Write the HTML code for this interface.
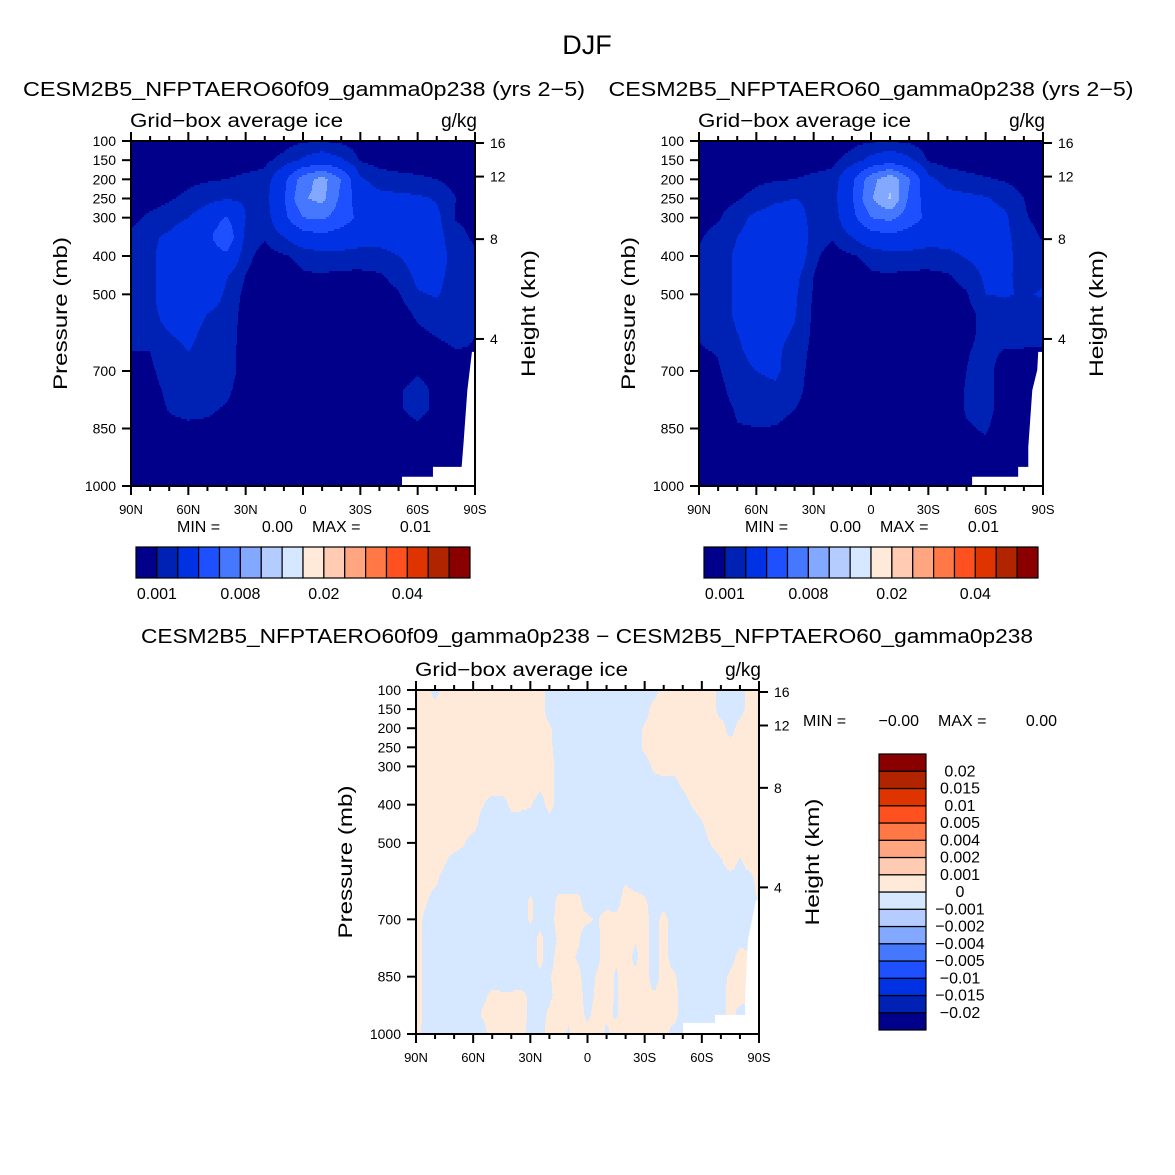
<!DOCTYPE html>
<html><head><meta charset="utf-8">
<style>
html,body{margin:0;padding:0;background:#fff;}
svg{display:block;font-family:"Liberation Sans",sans-serif;}
</style></head>
<body>
<svg id="fig" width="1175" height="1175" viewBox="0 0 1175 1175" xmlns="http://www.w3.org/2000/svg">
<rect x="0" y="0" width="1175" height="1175" fill="#fff"/>
<text x="587" y="54" font-size="27" text-anchor="middle">DJF</text>
<text x="304" y="96" font-size="20" text-anchor="middle" textLength="562" lengthAdjust="spacingAndGlyphs">CESM2B5_NFPTAERO60f09_gamma0p238 (yrs 2−5)</text>
<text x="871" y="96" font-size="20" text-anchor="middle" textLength="525" lengthAdjust="spacingAndGlyphs">CESM2B5_NFPTAERO60_gamma0p238 (yrs 2−5)</text>
<text x="587" y="643" font-size="20" text-anchor="middle" textLength="892" lengthAdjust="spacingAndGlyphs">CESM2B5_NFPTAERO60f09_gamma0p238 − CESM2B5_NFPTAERO60_gamma0p238</text>
<g id="layer"></g>
</svg>
<script>
// ---------- data ----------
const lats10 = [90,80,70,60,50,40,30,20,10,0,-10,-20,-30,-40,-50,-60,-70,-80,-90];
const lats5 = [90,85,80,75,70,65,60,55,50,45,40,35,30,25,20,15,10,5,0,-5,-10,-15,-20,-25,-30,-35,-40,-45,-50,-55,-60,-65,-70,-75,-80,-85,-90];
const plevs = [100,150,200,250,300,350,400,450,500,550,600,650,700,750,800,850,900,950,1000];
const iceUnit = 0.001; // grid values are in 1e-3 g/kg
const iceLeft = [
[0.2,0.2,0.2,0.2,0.2,0.2,0.3,0.4,0.6,0.9,1.0,0.8,0.5,0.3,0.2,0.2,0.2,0.2,0.2],
[0.2,0.2,0.3,0.3,0.4,0.5,0.6,0.8,1.3,2.2,2.8,2.2,0.9,0.6,0.5,0.4,0.3,0.3,0.2],
[0.3,0.4,0.6,0.8,0.9,1.0,1.2,1.3,3.5,7.0,8.8,6.0,2.2,1.5,1.3,1.2,1.0,0.6,0.4],
[0.4,0.6,0.9,1.2,1.6,1.9,1.8,1.5,3.8,7.8,8.6,5.5,2.8,2.4,2.3,2.2,1.9,1.0,0.5],
[0.7,1.2,1.5,2.0,2.8,4.2,2.0,1.3,3.5,6.0,6.3,5.0,3.5,2.6,2.6,2.5,2.3,0.9,0.7],
[1.2,1.8,2.2,3.0,3.5,5.5,1.6,1.1,2.0,3.0,3.5,3.0,2.6,2.5,2.6,2.6,2.4,1.4,0.8],
[1.3,1.8,2.5,3.0,3.2,3.6,1.3,0.6,0.9,1.3,1.5,1.6,1.5,1.6,2.0,2.5,2.5,1.6,1.2],
[1.3,1.8,2.5,3.0,3.1,2.1,1.0,0.4,0.5,0.9,0.95,0.8,0.8,0.9,1.4,2.3,2.3,1.6,1.3],
[1.3,1.8,2.5,3.0,2.8,1.8,0.7,0.3,0.3,0.4,0.5,0.5,0.5,0.5,0.9,1.9,2.1,1.5,1.2],
[1.3,1.8,2.3,2.6,2.0,1.6,0.6,0.3,0.3,0.3,0.3,0.3,0.3,0.3,0.5,1.2,1.6,1.4,1.0],
[1.3,1.7,2.0,2.3,1.7,1.5,0.6,0.3,0.3,0.3,0.3,0.3,0.3,0.3,0.4,0.8,1.1,1.3,1.0],
[1.0,1.0,1.6,2.0,1.6,1.4,0.6,0.3,0.3,0.3,0.3,0.3,0.3,0.3,0.4,0.6,0.7,0.95,0.95],
[0.7,0.85,1.4,1.6,1.5,1.4,0.6,0.3,0.3,0.3,0.3,0.3,0.3,0.3,0.6,0.9,0.6,0.5,0.4],
[0.6,0.7,1.2,1.4,1.4,1.2,0.5,0.3,0.3,0.3,0.3,0.3,0.3,0.3,0.9,1.3,0.8,0.4,0.4],
[0.5,0.6,1.05,1.2,1.15,0.9,0.4,0.3,0.3,0.3,0.3,0.3,0.3,0.3,0.9,1.3,0.8,0.4,0.4],
[0.4,0.5,0.8,0.85,0.8,0.6,0.3,0.3,0.3,0.3,0.3,0.3,0.3,0.3,0.6,0.8,0.5,0.3,0.3],
[0.3,0.4,0.5,0.5,0.5,0.4,0.3,0.3,0.3,0.3,0.3,0.3,0.3,0.3,0.3,0.3,0.3,0.3,0.3],
[0.3,0.3,0.3,0.3,0.3,0.3,0.3,0.3,0.3,0.3,0.3,0.3,0.3,0.3,0.3,0.3,0.3,0.3,0.3],
[0.3,0.3,0.3,0.3,0.3,0.3,0.3,0.3,0.3,0.3,0.3,0.3,0.3,0.3,0.3,0.3,0.3,0.3,0.3]
];
const iceRight = [
[0.2,0.2,0.2,0.2,0.2,0.2,0.3,0.4,0.7,0.9,1.0,0.8,0.5,0.3,0.2,0.2,0.2,0.2,0.2],
[0.2,0.2,0.3,0.3,0.4,0.5,0.6,0.8,1.4,2.4,3.0,2.3,0.9,0.6,0.5,0.4,0.3,0.3,0.2],
[0.3,0.4,0.6,0.8,0.9,1.0,1.2,1.3,3.6,7.2,9.5,6.2,2.3,1.6,1.3,1.1,0.9,0.6,0.4],
[0.4,0.6,0.9,1.3,1.8,2.0,1.8,1.5,3.8,7.8,10.3,5.6,2.9,2.4,2.3,2.1,1.7,1.0,0.5],
[0.7,0.9,1.6,2.3,2.6,2.5,1.7,1.3,3.4,6.0,6.5,5.0,3.5,2.7,2.6,2.5,2.2,1.1,0.7],
[0.9,1.3,2.0,2.5,2.8,3.5,1.4,1.1,2.0,3.0,3.5,3.0,2.6,2.5,2.6,2.6,2.3,1.4,0.9],
[1.1,1.5,2.2,2.6,2.8,3.3,1.2,0.6,0.9,1.3,1.5,1.6,1.5,1.7,2.1,2.5,2.3,1.6,1.3],
[1.2,1.5,2.2,2.6,2.7,2.4,1.0,0.4,0.5,0.9,0.95,0.8,0.8,0.9,1.4,2.2,2.2,1.7,1.8],
[1.2,1.5,2.2,2.6,2.6,2.2,0.9,0.3,0.3,0.4,0.5,0.5,0.5,0.6,0.9,2.0,2.1,1.9,2.1],
[1.2,1.5,2.2,2.6,2.5,2.1,0.8,0.3,0.3,0.3,0.3,0.3,0.3,0.4,0.7,1.3,1.6,1.5,1.6],
[1.1,1.4,2.0,2.5,2.3,1.9,0.8,0.3,0.3,0.3,0.3,0.3,0.3,0.3,0.8,1.2,1.3,1.2,1.3],
[0.9,1.05,1.8,2.4,2.2,1.6,0.7,0.3,0.3,0.3,0.3,0.3,0.3,0.3,0.95,1.2,0.95,0.95,0.9],
[0.7,0.9,1.6,2.0,2.2,1.5,0.6,0.3,0.3,0.3,0.3,0.3,0.3,0.3,1.0,1.3,0.6,0.5,0.4],
[0.6,0.7,1.4,1.7,1.8,1.4,0.5,0.3,0.3,0.3,0.3,0.3,0.3,0.3,1.1,1.3,0.6,0.4,0.4],
[0.5,0.6,1.1,1.3,1.3,1.0,0.5,0.3,0.3,0.3,0.3,0.3,0.3,0.3,1.1,1.3,0.6,0.4,0.4],
[0.4,0.5,0.95,0.97,0.95,0.7,0.4,0.3,0.3,0.3,0.3,0.3,0.3,0.3,0.9,1.1,0.5,0.3,0.3],
[0.3,0.4,0.5,0.5,0.5,0.4,0.3,0.3,0.3,0.3,0.3,0.3,0.3,0.3,0.6,0.8,0.4,0.3,0.3],
[0.3,0.3,0.3,0.3,0.3,0.3,0.3,0.3,0.3,0.3,0.3,0.3,0.3,0.3,0.3,0.3,0.3,0.3,0.3],
[0.3,0.3,0.3,0.3,0.3,0.3,0.3,0.3,0.3,0.3,0.3,0.3,0.3,0.3,0.3,0.3,0.3,0.3,0.3]
];
const diffUnit = 0.0003; // grid values are in 3e-4 g/kg
const iceDiff = [
[1,1,-1,1,1,1,1,1,1,1,1,1,1,1,-1,-1,-1,-1,-1,-1,-1,-1,-1,-1,-1,-1,1,1,1,1,1,1,-1,-1,-1,1,1],
[1,1,1,1,1,1,1,1,1,1,1,1,1,1,-1,-1,-1,-1,-1,-1,-1,-1,-1,-1,-1,1,1,1,1,1,1,1,-1,-1,-1,1,1],
[1,1,1,1,1,1,1,1,1,1,1,1,1,1,0.3,-1,-1,-1,-1,-1,-1,-1,-1,-1,0.3,1,1,1,1,1,1,1,1,-1,1,1,1],
[1,1,1,1,1,1,1,1,1,1,1,1,1,1,0.5,-1,-1,-1,-1,-1,-1,-1,-1,-1,0.5,1,1,1,1,1,1,1,1,1,1,1,1],
[1,1,1,1,1,1,1,1,1,1,1,1,1,1,1,-1,-1,-1,-1,-1,-1,-1,-1,-1,-1,0.5,1,1,1,1,1,1,1,1,1,1,1],
[1,1,1,1,1,1,1,1,1,1,1,1,1,0.5,1,-1,-1,-1,-1,-1,-1,-1,-1,-1,-1,-1,-1,-1,0.3,1,1,1,1,1,1,1,1],
[1,1,1,1,1,1,1,0.2,-1,-1,0.5,0.5,0.2,-1,0.8,-1,-1,-1,-1,-1,-1,-1,-1,-1,-1,-1,-1,-1,-1,0.2,1,1,1,1,1,1,1],
[1,1,1,1,1,1,1,-1,-1,-1,-1,-1,-1,-1,-1,-1,-1,-1,-1,-1,-1,-1,-1,-1,-1,-1,-1,-1,-1,-1,-0.2,1,1,1,1,1,1],
[1,1,1,1,1,0.2,-1,-1,-1,-1,-1,-1,-1,-1,-1,-1,-1,-1,-1,-1,-1,-1,-1,-1,-1,-1,-1,-1,-1,-1,-1,0.2,1,1,1,1,1],
[1,1,1,0.3,-1,-1,-1,-1,-1,-1,-1,-1,-1,-1,-1,-1,-1,-1,-1,-1,-1,-1,-1,-1,-1,-1,-1,-1,-1,-1,-1,-1,-0.3,1,-0.3,1,1],
[1,1,0.5,-1,-1,-1,-1,-1,-1,-1,-1,-1,-1,-1,-1,-1,-1,-1,-1,-1,-1,-1,-0.2,-1,-1,-1,-1,-1,-1,-1,-1,-1,-1,-1,-1,-1,1],
[1,0.3,-1,-1,-1,-1,-1,-1,-1,-1,-1,-1,0.3,-1,-1,0.5,0.5,0.5,-1,-1,-1,-1,1,0.8,0.3,-1,-1,-1,-1,-1,-1,-1,-1,-1,-1,-1,0.2],
[1,-0.5,-1,-1,-1,-1,-1,-1,-1,-1,-1,-1,0.3,-1,-1,1,1,0.5,0.3,-0.2,1,0.5,1,1,0.8,-1,0.8,-1,-1,-1,-1,-1,-1,-1,-1,-1,-1],
[1,-0.5,-1,-1,-1,-1,-1,-1,-1,-1,-1,-1,-1,0.5,-1,0.3,0.5,0.3,-1,-0.5,1,1,1,0.2,1,-1,1,-1,-1,-1,-1,-1,-1,-1,-1,-1,-1],
[1,-0.5,-1,-1,-1,-1,-1,-1,-1,-1,-1,-1,-1,0.5,-1,1,0.5,-0.2,-1,-0.5,1,0.3,1,-0.5,1,-1,1,-1,-1,-1,-1,-1,-1,-1,1,0.5,-1],
[1,-0.5,-1,-1,-1,-1,-1,-1,-1,-1,-1,-1,-1,-0.3,-0.2,1,1,0.5,-1,0.2,1,-0.3,1,0.5,1,-1,1,0.5,-1,-1,-1,-1,-1,0.5,1,0.5,-1],
[1,-0.5,-1,-1,-1,-1,-1,-0.5,0.5,0.3,0.3,0.5,-0.3,-1,-0.5,1,1,1,-1,0.5,1,-0.3,1,1,0.5,0.3,1,1,-1,-1,-1,-1,-1,1,1,0.3,-1],
[1,-0.5,-1,-1,-1,-1,-1,0.3,1,0.5,1,1,-0.5,-1,0.5,1,0.5,1,-0.5,1,0.5,-0.3,1,1,0.3,0.3,1,1,-1,-1,-1,-1,-1,1,-1,-1,-1],
[1,-1,-1,-1,-1,-1,-1,-1,1,0.3,1,1,-1,-1,1,1,-0.3,1,1,1,-0.5,1,1,1,1,1,1,-1,-1,-1,-1,-1,-1,-1,-1,-1,-1]
];
const iceLevels = [0.001,0.002,0.004,0.006,0.008,0.01,0.012,0.015,0.02,0.025,0.03,0.035,0.04,0.045,0.05];
const iceLabelIdx = [0,4,8,12];
const diffLevels = [-0.02,-0.015,-0.01,-0.005,-0.004,-0.002,-0.001,0,0.001,0.002,0.004,0.005,0.01,0.015,0.02];
const diffLabels = ['−0.02','−0.015','−0.01','−0.005','−0.004','−0.002','−0.001','0','0.001','0.002','0.004','0.005','0.01','0.015','0.02'];
const palette = ['#00008a','#0022b4','#0032e4','#1e50ff','#4678ff','#82a8ff','#b4ccff','#d6e8ff','#ffe9d8','#ffcbb2','#ffa57f','#ff7846','#ff5020','#e03400','#b02400','#8a0000'];
const pTicks = [100,150,200,250,300,400,500,700,850,1000];
const latTicks = [90,60,30,0,-30,-60,-90];
const latTickLabels = ['90N','60N','30N','0','30S','60S','90S'];
const kmTicks = [16,12,8,4];
const maskLatL = [-51.8,-51.8,-68,-68,-83,-84,-86,-88.4,-90,-90];
const maskPL = [1000,976,976,950,950,888,750,650,650,1000];
const maskLatR = [-52.9,-52.9,-77,-77,-82.3,-82.3,-84.4,-87,-87.5,-90,-90];
const maskPR = [1000,976,976,950,950,898,750,697,650,650,1000];
const maskLatD = [-50.1,-50.1,-66.9,-66.9,-82.7,-82.7,-84.2,-86.3,-88.4,-90,-90];
const maskPD = [1000,971,971,950,950,898,754,702,650,650,1000];
const minMaxL = ['0.00','0.01'], minMaxR = ['0.00','0.01'], minMaxD = ['−0.00','0.00'];

// ---------- drawing ----------
const NS = 'http://www.w3.org/2000/svg';
const layer = document.getElementById('layer');
function mk(tag, attrs, parent){
  const e = document.createElementNS(NS, tag);
  for (const k in attrs) e.setAttribute(k, attrs[k]);
  (parent||layer).appendChild(e);
  return e;
}
function levelIndex(v, levels){ let k=0; while(k<levels.length && v>=levels[k]) k++; return k; }
function interp(grid, lats, lat, p){
  const step = (lats[0]-lats[lats.length-1])/(lats.length-1);
  let fi = (lats[0]-lat)/step, fj = (p-plevs[0])/(plevs[1]-plevs[0]);
  fi = Math.max(0, Math.min(lats.length-1.0001, fi));
  fj = Math.max(0, Math.min(plevs.length-1.0001, fj));
  const i=Math.floor(fi), j=Math.floor(fj), a=fi-i, b=fj-j;
  return (grid[j][i]*(1-a)+grid[j][i+1]*a)*(1-b)+(grid[j+1][i]*(1-a)+grid[j+1][i+1]*a)*b;
}
function panel(name, box, grid, lats, unit, levels, maskLat, maskP){
  const g = mk('g', {});
  
  
  const X = lat => box.x + (90-lat)/180*box.w;
  const Y = p => box.y + (p-100)/900*box.h;
  const step = 2;
  for (let yy=0; yy<box.h; yy+=step){
    const p = 100 + (yy+step/2)/box.h*900;
    let runStart=0, runIdx=-1;
    for (let xx=0; xx<=box.w; xx++){
      let idx=-2;
      if (xx<box.w){
        const lat = 90 - (xx+0.5)/box.w*180;
        idx = levelIndex(interp(grid, lats, lat, p)*unit, levels);
      }
      if (idx!==runIdx){
        if (runIdx>=0){
          const r = mk('rect', {x:box.x+runStart, y:box.y+yy, width:xx-runStart+0.4, height:Math.min(step, box.h-yy)+0.4, fill:palette[runIdx]}, g);
          
          
        }
        runStart=xx; runIdx=idx;
      }
    }
  }
  const pts = maskLat.map((la,k)=>X(la)+','+Y(maskP[k])).join(' ');
  const m = mk('polygon', {points:pts, fill:'#fff'}, g);
  
  
  const f = mk('rect', {x:box.x, y:box.y, width:box.w, height:box.h, fill:'none', stroke:'#000', 'stroke-width':2}, g);
  
  
  pTicks.forEach(pt=>{
    const y=Y(pt);
    const t = mk('line', {x1:box.x-9, x2:box.x, y1:y, y2:y, stroke:'#000','stroke-width':2}, g);
    
    
    const l = mk('text', {x:box.x-15, y:y+5, 'font-size':14, 'text-anchor':'end'}, g);
    l.textContent = pt;
    
    
  });
  for (let la=90; la>=-90; la-=10){
    const x=X(la), major = la%30===0, len = major?9:5;
    const t1 = mk('line', {x1:x, x2:x, y1:box.y+box.h, y2:box.y+box.h+len, stroke:'#000','stroke-width':2}, g);
    
    
    const t2 = mk('line', {x1:x, x2:x, y1:box.y-len, y2:box.y, stroke:'#000','stroke-width':2}, g);
    
    
  }
  latTicks.forEach((la,k)=>{
    const l = mk('text', {x:X(la), y:box.y+box.h+28, 'font-size':13, 'text-anchor':'middle'}, g);
    l.textContent = latTickLabels[k];
    
    
  });
  kmTicks.forEach(z=>{
    const pz = 1013.25*Math.pow(1-2.25577e-5*z*1000, 5.25588);
    const y = Math.max(box.y+2, Y(pz));
    const t = mk('line', {x1:box.x+box.w, x2:box.x+box.w+9, y1:y, y2:y, stroke:'#000','stroke-width':2}, g);
    
    
    const l = mk('text', {x:box.x+box.w+15, y:y+5, 'font-size':14}, g);
    l.textContent = z;
    
    
  });
  const cy = box.y+box.h/2;
  const yt = mk('text', {x:0, y:0, 'font-size':19, 'text-anchor':'middle', textLength:153, lengthAdjust:'spacingAndGlyphs', transform:`translate(${box.x-64},${cy}) rotate(-90)`}, g);
  yt.textContent = 'Pressure (mb)';
  
  
  const ht = mk('text', {x:0, y:0, 'font-size':19, 'text-anchor':'middle', textLength:127, lengthAdjust:'spacingAndGlyphs', transform:`translate(${box.x+box.w+60},${cy}) rotate(-90)`}, g);
  ht.textContent = 'Height (km)';
  
  
  const gt = mk('text', {x:box.x-1, y:box.y-14, 'font-size':19, textLength:213, lengthAdjust:'spacingAndGlyphs'}, g);
  gt.textContent = 'Grid−box average ice';
  
  
  const ut = mk('text', {x:box.x+box.w+2, y:box.y-14, 'font-size':19, 'text-anchor':'end'}, g);
  ut.textContent = 'g/kg';
  
  
  return g;
}
function minmax(x, y, vals, name){
  const g = mk('g', {});
  
  
  const parts = [['MIN =',0,'start'],[vals[0],116,'end'],['MAX =',135,'start'],[vals[1],254,'end']];
  parts.forEach(pp=>{
    const t = mk('text', {x:x+pp[1], y:y, 'font-size':16, 'text-anchor':pp[2]}, g);
    t.textContent = pp[0];
    
    
  });
}
function hbar(x0, y0, w, h, name){
  const g = mk('g', {});
  
  
  const n = iceLevels.length+1, bw = w/n;
  for (let k=0;k<n;k++){
    const r = mk('rect', {x:x0+k*bw, y:y0, width:bw, height:h, fill:palette[k], stroke:'#000','stroke-width':1.2}, g);
    
    
  }
  iceLabelIdx.forEach(k=>{
    const t = mk('text', {x:x0+(k+1)*bw, y:y0+h+21, 'font-size':16, 'text-anchor':'middle'}, g);
    t.textContent = String(iceLevels[k]);
    
    
  });
}
function vbar(x0, y0, w, h, name){
  const g = mk('g', {});
  
  
  const n = diffLevels.length+1, bh = h/n;
  for (let k=0;k<n;k++){
    const r = mk('rect', {x:x0, y:y0+(n-1-k)*bh, width:w, height:bh, fill:palette[k], stroke:'#000','stroke-width':1.2}, g);
    
    
  }
  diffLevels.forEach((v,k)=>{
    const t = mk('text', {x:x0+w+34, y:y0+(n-1-k)*bh+5, 'font-size':16, 'text-anchor':'middle'}, g);
    t.textContent = diffLabels[k];
    
    
  });
}
panel('left-panel', {x:131,y:141,w:344,h:345}, iceLeft, lats10, iceUnit, iceLevels, maskLatL, maskPL);
panel('right-panel', {x:699,y:141,w:344,h:345}, iceRight, lats10, iceUnit, iceLevels, maskLatR, maskPR);
panel('diff-panel', {x:416,y:690,w:343,h:344}, iceDiff, lats5, diffUnit, diffLevels, maskLatD, maskPD);
minmax(177, 532, minMaxL, 'left-min-max');
minmax(745, 532, minMaxR, 'right-min-max');
minmax(803, 726, minMaxD, 'diff-min-max');
hbar(136, 547, 334, 31, 'left-colorbar');
hbar(704, 547, 334, 31, 'right-colorbar');
vbar(879, 754, 47, 276, 'diff-colorbar');
</script>
</body></html>
